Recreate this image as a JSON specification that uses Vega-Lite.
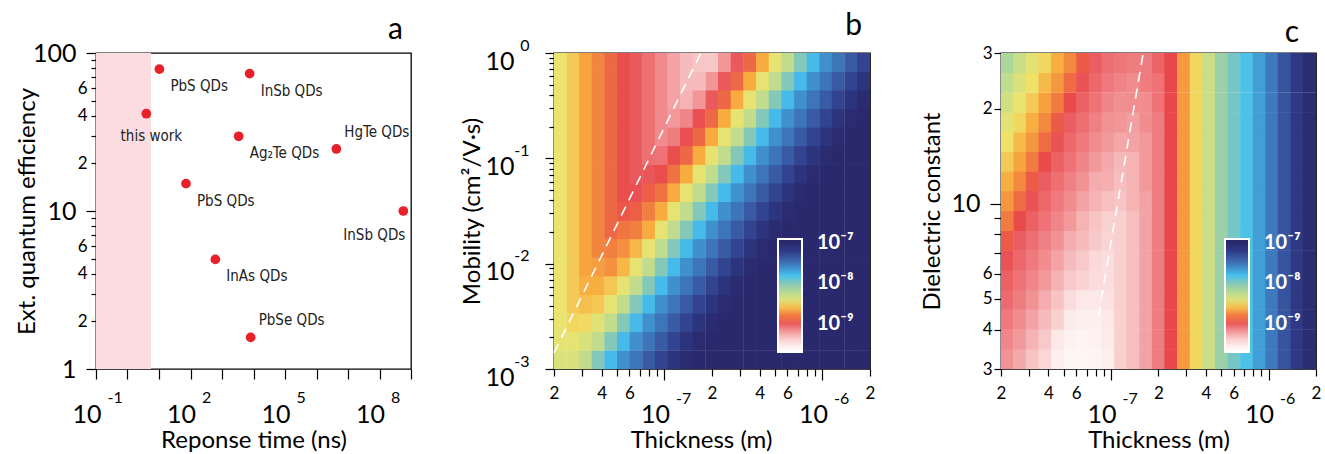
{
"$schema": "https://vega.github.io/schema/vega-lite/v6.json",
"padding": {"left": 14, "top": 10, "right": 0, "bottom": 0},
"datasets": {
"pts": [
{"time":3.96,"eqe":41.3,"label":"this work"},
{"time":10.3,"eqe":79,"label":"PbS QDs"},
{"time":7550,"eqe":74,"label":"InSb QDs"},
{"time":3380,"eqe":29.7,"label":"Ag₂Te QDs"},
{"time":4270000,"eqe":24.7,"label":"HgTe QDs"},
{"time":71.9,"eqe":14.9,"label":"PbS QDs"},
{"time":571000000,"eqe":10,"label":"InSb QDs"},
{"time":614,"eqe":4.94,"label":"InAs QDs"},
{"time":8130,"eqe":1.585,"label":"PbSe QDs"}
],
"hb": [
{"t":2.19e-8,"m":1.22e-3,"v":-8.4},{"t":2.64e-8,"m":1.22e-3,"v":-8.38},{"t":3.17e-8,"m":1.22e-3,"v":-8.25},{"t":3.81e-8,"m":1.22e-3,"v":-8},{"t":4.58e-8,"m":1.22e-3,"v":-7.78},{"t":5.51e-8,"m":1.22e-3,"v":-7.62},{"t":6.62e-8,"m":1.22e-3,"v":-7.5},{"t":7.96e-8,"m":1.22e-3,"v":-7.38},{"t":9.57e-8,"m":1.22e-3,"v":-7.25},{"t":1.15e-7,"m":1.22e-3,"v":-7.12},{"t":1.38e-7,"m":1.22e-3,"v":-7.02},{"t":1.66e-7,"m":1.22e-3,"v":-6.95},{"t":2.0e-7,"m":1.22e-3,"v":-6.95},{"t":2.4e-7,"m":1.22e-3,"v":-6.95},{"t":2.89e-7,"m":1.22e-3,"v":-6.95},{"t":3.48e-7,"m":1.22e-3,"v":-6.95},{"t":4.18e-7,"m":1.22e-3,"v":-6.95},{"t":5.03e-7,"m":1.22e-3,"v":-6.95},{"t":6.04e-7,"m":1.22e-3,"v":-6.95},{"t":7.27e-7,"m":1.22e-3,"v":-6.95},{"t":8.74e-7,"m":1.22e-3,"v":-6.95},{"t":1.05e-6,"m":1.22e-3,"v":-6.95},{"t":1.26e-6,"m":1.22e-3,"v":-6.95},{"t":1.52e-6,"m":1.22e-3,"v":-6.95},{"t":1.82e-6,"m":1.22e-3,"v":-6.95},
{"t":2.19e-8,"m":1.84e-3,"v":-8.44},{"t":2.64e-8,"m":1.84e-3,"v":-8.45},{"t":3.17e-8,"m":1.84e-3,"v":-8.38},{"t":3.81e-8,"m":1.84e-3,"v":-8.25},{"t":4.58e-8,"m":1.84e-3,"v":-8},{"t":5.51e-8,"m":1.84e-3,"v":-7.78},{"t":6.62e-8,"m":1.84e-3,"v":-7.62},{"t":7.96e-8,"m":1.84e-3,"v":-7.5},{"t":9.57e-8,"m":1.84e-3,"v":-7.38},{"t":1.15e-7,"m":1.84e-3,"v":-7.25},{"t":1.38e-7,"m":1.84e-3,"v":-7.12},{"t":1.66e-7,"m":1.84e-3,"v":-7.02},{"t":2.0e-7,"m":1.84e-3,"v":-6.95},{"t":2.4e-7,"m":1.84e-3,"v":-6.95},{"t":2.89e-7,"m":1.84e-3,"v":-6.95},{"t":3.48e-7,"m":1.84e-3,"v":-6.95},{"t":4.18e-7,"m":1.84e-3,"v":-6.95},{"t":5.03e-7,"m":1.84e-3,"v":-6.95},{"t":6.04e-7,"m":1.84e-3,"v":-6.95},{"t":7.27e-7,"m":1.84e-3,"v":-6.95},{"t":8.74e-7,"m":1.84e-3,"v":-6.95},{"t":1.05e-6,"m":1.84e-3,"v":-6.95},{"t":1.26e-6,"m":1.84e-3,"v":-6.95},{"t":1.52e-6,"m":1.84e-3,"v":-6.95},{"t":1.82e-6,"m":1.84e-3,"v":-6.95},
{"t":2.19e-8,"m":2.76e-3,"v":-8.47},{"t":2.64e-8,"m":2.76e-3,"v":-8.54},{"t":3.17e-8,"m":2.76e-3,"v":-8.53},{"t":3.81e-8,"m":2.76e-3,"v":-8.42},{"t":4.58e-8,"m":2.76e-3,"v":-8.25},{"t":5.51e-8,"m":2.76e-3,"v":-8},{"t":6.62e-8,"m":2.76e-3,"v":-7.78},{"t":7.96e-8,"m":2.76e-3,"v":-7.62},{"t":9.57e-8,"m":2.76e-3,"v":-7.5},{"t":1.15e-7,"m":2.76e-3,"v":-7.38},{"t":1.38e-7,"m":2.76e-3,"v":-7.25},{"t":1.66e-7,"m":2.76e-3,"v":-7.12},{"t":2.0e-7,"m":2.76e-3,"v":-7.02},{"t":2.4e-7,"m":2.76e-3,"v":-6.95},{"t":2.89e-7,"m":2.76e-3,"v":-6.95},{"t":3.48e-7,"m":2.76e-3,"v":-6.95},{"t":4.18e-7,"m":2.76e-3,"v":-6.95},{"t":5.03e-7,"m":2.76e-3,"v":-6.95},{"t":6.04e-7,"m":2.76e-3,"v":-6.95},{"t":7.27e-7,"m":2.76e-3,"v":-6.95},{"t":8.74e-7,"m":2.76e-3,"v":-6.95},{"t":1.05e-6,"m":2.76e-3,"v":-6.95},{"t":1.26e-6,"m":2.76e-3,"v":-6.95},{"t":1.52e-6,"m":2.76e-3,"v":-6.95},{"t":1.82e-6,"m":2.76e-3,"v":-6.95},
{"t":2.19e-8,"m":4.15e-3,"v":-8.47},{"t":2.64e-8,"m":4.15e-3,"v":-8.57},{"t":3.17e-8,"m":4.15e-3,"v":-8.6},{"t":3.81e-8,"m":4.15e-3,"v":-8.58},{"t":4.58e-8,"m":4.15e-3,"v":-8.45},{"t":5.51e-8,"m":4.15e-3,"v":-8.25},{"t":6.62e-8,"m":4.15e-3,"v":-8},{"t":7.96e-8,"m":4.15e-3,"v":-7.78},{"t":9.57e-8,"m":4.15e-3,"v":-7.62},{"t":1.15e-7,"m":4.15e-3,"v":-7.5},{"t":1.38e-7,"m":4.15e-3,"v":-7.38},{"t":1.66e-7,"m":4.15e-3,"v":-7.25},{"t":2.0e-7,"m":4.15e-3,"v":-7.12},{"t":2.4e-7,"m":4.15e-3,"v":-7.02},{"t":2.89e-7,"m":4.15e-3,"v":-6.95},{"t":3.48e-7,"m":4.15e-3,"v":-6.95},{"t":4.18e-7,"m":4.15e-3,"v":-6.95},{"t":5.03e-7,"m":4.15e-3,"v":-6.95},{"t":6.04e-7,"m":4.15e-3,"v":-6.95},{"t":7.27e-7,"m":4.15e-3,"v":-6.95},{"t":8.74e-7,"m":4.15e-3,"v":-6.95},{"t":1.05e-6,"m":4.15e-3,"v":-6.95},{"t":1.26e-6,"m":4.15e-3,"v":-6.95},{"t":1.52e-6,"m":4.15e-3,"v":-6.95},{"t":1.82e-6,"m":4.15e-3,"v":-6.95},
{"t":2.19e-8,"m":6.22e-3,"v":-8.47},{"t":2.64e-8,"m":6.22e-3,"v":-8.57},{"t":3.17e-8,"m":6.22e-3,"v":-8.64},{"t":3.81e-8,"m":6.22e-3,"v":-8.64},{"t":4.58e-8,"m":6.22e-3,"v":-8.58},{"t":5.51e-8,"m":6.22e-3,"v":-8.45},{"t":6.62e-8,"m":6.22e-3,"v":-8.25},{"t":7.96e-8,"m":6.22e-3,"v":-8},{"t":9.57e-8,"m":6.22e-3,"v":-7.78},{"t":1.15e-7,"m":6.22e-3,"v":-7.62},{"t":1.38e-7,"m":6.22e-3,"v":-7.5},{"t":1.66e-7,"m":6.22e-3,"v":-7.38},{"t":2.0e-7,"m":6.22e-3,"v":-7.25},{"t":2.4e-7,"m":6.22e-3,"v":-7.12},{"t":2.89e-7,"m":6.22e-3,"v":-7.02},{"t":3.48e-7,"m":6.22e-3,"v":-6.95},{"t":4.18e-7,"m":6.22e-3,"v":-6.95},{"t":5.03e-7,"m":6.22e-3,"v":-6.95},{"t":6.04e-7,"m":6.22e-3,"v":-6.95},{"t":7.27e-7,"m":6.22e-3,"v":-6.95},{"t":8.74e-7,"m":6.22e-3,"v":-6.95},{"t":1.05e-6,"m":6.22e-3,"v":-6.95},{"t":1.26e-6,"m":6.22e-3,"v":-6.95},{"t":1.52e-6,"m":6.22e-3,"v":-6.95},{"t":1.82e-6,"m":6.22e-3,"v":-6.95},
{"t":2.19e-8,"m":9.35e-3,"v":-8.47},{"t":2.64e-8,"m":9.35e-3,"v":-8.57},{"t":3.17e-8,"m":9.35e-3,"v":-8.67},{"t":3.81e-8,"m":9.35e-3,"v":-8.69},{"t":4.58e-8,"m":9.35e-3,"v":-8.73},{"t":5.51e-8,"m":9.35e-3,"v":-8.62},{"t":6.62e-8,"m":9.35e-3,"v":-8.45},{"t":7.96e-8,"m":9.35e-3,"v":-8.25},{"t":9.57e-8,"m":9.35e-3,"v":-8},{"t":1.15e-7,"m":9.35e-3,"v":-7.78},{"t":1.38e-7,"m":9.35e-3,"v":-7.62},{"t":1.66e-7,"m":9.35e-3,"v":-7.5},{"t":2.0e-7,"m":9.35e-3,"v":-7.38},{"t":2.4e-7,"m":9.35e-3,"v":-7.25},{"t":2.89e-7,"m":9.35e-3,"v":-7.12},{"t":3.48e-7,"m":9.35e-3,"v":-7.02},{"t":4.18e-7,"m":9.35e-3,"v":-6.95},{"t":5.03e-7,"m":9.35e-3,"v":-6.95},{"t":6.04e-7,"m":9.35e-3,"v":-6.95},{"t":7.27e-7,"m":9.35e-3,"v":-6.95},{"t":8.74e-7,"m":9.35e-3,"v":-6.95},{"t":1.05e-6,"m":9.35e-3,"v":-6.95},{"t":1.26e-6,"m":9.35e-3,"v":-6.95},{"t":1.52e-6,"m":9.35e-3,"v":-6.95},{"t":1.82e-6,"m":9.35e-3,"v":-6.95},
{"t":2.19e-8,"m":0.014,"v":-8.47},{"t":2.64e-8,"m":0.014,"v":-8.57},{"t":3.17e-8,"m":0.014,"v":-8.67},{"t":3.81e-8,"m":0.014,"v":-8.76},{"t":4.58e-8,"m":0.014,"v":-8.78},{"t":5.51e-8,"m":0.014,"v":-8.73},{"t":6.62e-8,"m":0.014,"v":-8.62},{"t":7.96e-8,"m":0.014,"v":-8.45},{"t":9.57e-8,"m":0.014,"v":-8.25},{"t":1.15e-7,"m":0.014,"v":-8},{"t":1.38e-7,"m":0.014,"v":-7.78},{"t":1.66e-7,"m":0.014,"v":-7.62},{"t":2.0e-7,"m":0.014,"v":-7.5},{"t":2.4e-7,"m":0.014,"v":-7.38},{"t":2.89e-7,"m":0.014,"v":-7.25},{"t":3.48e-7,"m":0.014,"v":-7.12},{"t":4.18e-7,"m":0.014,"v":-7.02},{"t":5.03e-7,"m":0.014,"v":-6.95},{"t":6.04e-7,"m":0.014,"v":-6.95},{"t":7.27e-7,"m":0.014,"v":-6.95},{"t":8.74e-7,"m":0.014,"v":-6.95},{"t":1.05e-6,"m":0.014,"v":-6.95},{"t":1.26e-6,"m":0.014,"v":-6.95},{"t":1.52e-6,"m":0.014,"v":-6.95},{"t":1.82e-6,"m":0.014,"v":-6.95},
{"t":2.19e-8,"m":0.0211,"v":-8.47},{"t":2.64e-8,"m":0.0211,"v":-8.57},{"t":3.17e-8,"m":0.0211,"v":-8.67},{"t":3.81e-8,"m":0.0211,"v":-8.76},{"t":4.58e-8,"m":0.0211,"v":-8.85},{"t":5.51e-8,"m":0.0211,"v":-8.81},{"t":6.62e-8,"m":0.0211,"v":-8.78},{"t":7.96e-8,"m":0.0211,"v":-8.65},{"t":9.57e-8,"m":0.0211,"v":-8.45},{"t":1.15e-7,"m":0.0211,"v":-8.25},{"t":1.38e-7,"m":0.0211,"v":-8},{"t":1.66e-7,"m":0.0211,"v":-7.78},{"t":2.0e-7,"m":0.0211,"v":-7.62},{"t":2.4e-7,"m":0.0211,"v":-7.5},{"t":2.89e-7,"m":0.0211,"v":-7.38},{"t":3.48e-7,"m":0.0211,"v":-7.25},{"t":4.18e-7,"m":0.0211,"v":-7.12},{"t":5.03e-7,"m":0.0211,"v":-7.02},{"t":6.04e-7,"m":0.0211,"v":-6.95},{"t":7.27e-7,"m":0.0211,"v":-6.95},{"t":8.74e-7,"m":0.0211,"v":-6.95},{"t":1.05e-6,"m":0.0211,"v":-6.95},{"t":1.26e-6,"m":0.0211,"v":-6.95},{"t":1.52e-6,"m":0.0211,"v":-6.95},{"t":1.82e-6,"m":0.0211,"v":-6.95},
{"t":2.19e-8,"m":0.0316,"v":-8.47},{"t":2.64e-8,"m":0.0316,"v":-8.57},{"t":3.17e-8,"m":0.0316,"v":-8.67},{"t":3.81e-8,"m":0.0316,"v":-8.76},{"t":4.58e-8,"m":0.0316,"v":-8.85},{"t":5.51e-8,"m":0.0316,"v":-8.9},{"t":6.62e-8,"m":0.0316,"v":-8.88},{"t":7.96e-8,"m":0.0316,"v":-8.78},{"t":9.57e-8,"m":0.0316,"v":-8.65},{"t":1.15e-7,"m":0.0316,"v":-8.45},{"t":1.38e-7,"m":0.0316,"v":-8.25},{"t":1.66e-7,"m":0.0316,"v":-8},{"t":2.0e-7,"m":0.0316,"v":-7.78},{"t":2.4e-7,"m":0.0316,"v":-7.62},{"t":2.89e-7,"m":0.0316,"v":-7.5},{"t":3.48e-7,"m":0.0316,"v":-7.38},{"t":4.18e-7,"m":0.0316,"v":-7.25},{"t":5.03e-7,"m":0.0316,"v":-7.12},{"t":6.04e-7,"m":0.0316,"v":-7.02},{"t":7.27e-7,"m":0.0316,"v":-6.95},{"t":8.74e-7,"m":0.0316,"v":-6.95},{"t":1.05e-6,"m":0.0316,"v":-6.95},{"t":1.26e-6,"m":0.0316,"v":-6.95},{"t":1.52e-6,"m":0.0316,"v":-6.95},{"t":1.82e-6,"m":0.0316,"v":-6.95},
{"t":2.19e-8,"m":0.0475,"v":-8.47},{"t":2.64e-8,"m":0.0475,"v":-8.57},{"t":3.17e-8,"m":0.0475,"v":-8.67},{"t":3.81e-8,"m":0.0475,"v":-8.76},{"t":4.58e-8,"m":0.0475,"v":-8.85},{"t":5.51e-8,"m":0.0475,"v":-8.93},{"t":6.62e-8,"m":0.0475,"v":-8.97},{"t":7.96e-8,"m":0.0475,"v":-8.88},{"t":9.57e-8,"m":0.0475,"v":-8.82},{"t":1.15e-7,"m":0.0475,"v":-8.65},{"t":1.38e-7,"m":0.0475,"v":-8.45},{"t":1.66e-7,"m":0.0475,"v":-8.25},{"t":2.0e-7,"m":0.0475,"v":-8},{"t":2.4e-7,"m":0.0475,"v":-7.78},{"t":2.89e-7,"m":0.0475,"v":-7.62},{"t":3.48e-7,"m":0.0475,"v":-7.5},{"t":4.18e-7,"m":0.0475,"v":-7.38},{"t":5.03e-7,"m":0.0475,"v":-7.25},{"t":6.04e-7,"m":0.0475,"v":-7.12},{"t":7.27e-7,"m":0.0475,"v":-7.02},{"t":8.74e-7,"m":0.0475,"v":-6.95},{"t":1.05e-6,"m":0.0475,"v":-6.95},{"t":1.26e-6,"m":0.0475,"v":-6.95},{"t":1.52e-6,"m":0.0475,"v":-6.95},{"t":1.82e-6,"m":0.0475,"v":-6.95},
{"t":2.19e-8,"m":0.0713,"v":-8.47},{"t":2.64e-8,"m":0.0713,"v":-8.57},{"t":3.17e-8,"m":0.0713,"v":-8.67},{"t":3.81e-8,"m":0.0713,"v":-8.76},{"t":4.58e-8,"m":0.0713,"v":-8.85},{"t":5.51e-8,"m":0.0713,"v":-8.93},{"t":6.62e-8,"m":0.0713,"v":-9},{"t":7.96e-8,"m":0.0713,"v":-8.99},{"t":9.57e-8,"m":0.0713,"v":-8.93},{"t":1.15e-7,"m":0.0713,"v":-8.82},{"t":1.38e-7,"m":0.0713,"v":-8.65},{"t":1.66e-7,"m":0.0713,"v":-8.45},{"t":2.0e-7,"m":0.0713,"v":-8.25},{"t":2.4e-7,"m":0.0713,"v":-8},{"t":2.89e-7,"m":0.0713,"v":-7.78},{"t":3.48e-7,"m":0.0713,"v":-7.62},{"t":4.18e-7,"m":0.0713,"v":-7.5},{"t":5.03e-7,"m":0.0713,"v":-7.38},{"t":6.04e-7,"m":0.0713,"v":-7.25},{"t":7.27e-7,"m":0.0713,"v":-7.12},{"t":8.74e-7,"m":0.0713,"v":-7.02},{"t":1.05e-6,"m":0.0713,"v":-6.95},{"t":1.26e-6,"m":0.0713,"v":-6.95},{"t":1.52e-6,"m":0.0713,"v":-6.95},{"t":1.82e-6,"m":0.0713,"v":-6.95},
{"t":2.19e-8,"m":0.107,"v":-8.47},{"t":2.64e-8,"m":0.107,"v":-8.57},{"t":3.17e-8,"m":0.107,"v":-8.67},{"t":3.81e-8,"m":0.107,"v":-8.76},{"t":4.58e-8,"m":0.107,"v":-8.85},{"t":5.51e-8,"m":0.107,"v":-8.93},{"t":6.62e-8,"m":0.107,"v":-9},{"t":7.96e-8,"m":0.107,"v":-9.06},{"t":9.57e-8,"m":0.107,"v":-9.07},{"t":1.15e-7,"m":0.107,"v":-8.93},{"t":1.38e-7,"m":0.107,"v":-8.85},{"t":1.66e-7,"m":0.107,"v":-8.65},{"t":2.0e-7,"m":0.107,"v":-8.45},{"t":2.4e-7,"m":0.107,"v":-8.25},{"t":2.89e-7,"m":0.107,"v":-8},{"t":3.48e-7,"m":0.107,"v":-7.78},{"t":4.18e-7,"m":0.107,"v":-7.62},{"t":5.03e-7,"m":0.107,"v":-7.5},{"t":6.04e-7,"m":0.107,"v":-7.38},{"t":7.27e-7,"m":0.107,"v":-7.25},{"t":8.74e-7,"m":0.107,"v":-7.12},{"t":1.05e-6,"m":0.107,"v":-7.02},{"t":1.26e-6,"m":0.107,"v":-6.95},{"t":1.52e-6,"m":0.107,"v":-6.95},{"t":1.82e-6,"m":0.107,"v":-6.95},
{"t":2.19e-8,"m":0.161,"v":-8.47},{"t":2.64e-8,"m":0.161,"v":-8.57},{"t":3.17e-8,"m":0.161,"v":-8.67},{"t":3.81e-8,"m":0.161,"v":-8.76},{"t":4.58e-8,"m":0.161,"v":-8.85},{"t":5.51e-8,"m":0.161,"v":-8.93},{"t":6.62e-8,"m":0.161,"v":-9},{"t":7.96e-8,"m":0.161,"v":-9.06},{"t":9.57e-8,"m":0.161,"v":-9.14},{"t":1.15e-7,"m":0.161,"v":-9.1},{"t":1.38e-7,"m":0.161,"v":-8.97},{"t":1.66e-7,"m":0.161,"v":-8.85},{"t":2.0e-7,"m":0.161,"v":-8.65},{"t":2.4e-7,"m":0.161,"v":-8.45},{"t":2.89e-7,"m":0.161,"v":-8.25},{"t":3.48e-7,"m":0.161,"v":-8},{"t":4.18e-7,"m":0.161,"v":-7.78},{"t":5.03e-7,"m":0.161,"v":-7.62},{"t":6.04e-7,"m":0.161,"v":-7.5},{"t":7.27e-7,"m":0.161,"v":-7.38},{"t":8.74e-7,"m":0.161,"v":-7.25},{"t":1.05e-6,"m":0.161,"v":-7.12},{"t":1.26e-6,"m":0.161,"v":-7.02},{"t":1.52e-6,"m":0.161,"v":-6.95},{"t":1.82e-6,"m":0.161,"v":-6.95},
{"t":2.19e-8,"m":0.241,"v":-8.47},{"t":2.64e-8,"m":0.241,"v":-8.57},{"t":3.17e-8,"m":0.241,"v":-8.67},{"t":3.81e-8,"m":0.241,"v":-8.76},{"t":4.58e-8,"m":0.241,"v":-8.85},{"t":5.51e-8,"m":0.241,"v":-8.93},{"t":6.62e-8,"m":0.241,"v":-9},{"t":7.96e-8,"m":0.241,"v":-9.06},{"t":9.57e-8,"m":0.241,"v":-9.14},{"t":1.15e-7,"m":0.241,"v":-9.19},{"t":1.38e-7,"m":0.241,"v":-9.13},{"t":1.66e-7,"m":0.241,"v":-8.97},{"t":2.0e-7,"m":0.241,"v":-8.85},{"t":2.4e-7,"m":0.241,"v":-8.65},{"t":2.89e-7,"m":0.241,"v":-8.45},{"t":3.48e-7,"m":0.241,"v":-8.25},{"t":4.18e-7,"m":0.241,"v":-8},{"t":5.03e-7,"m":0.241,"v":-7.78},{"t":6.04e-7,"m":0.241,"v":-7.62},{"t":7.27e-7,"m":0.241,"v":-7.5},{"t":8.74e-7,"m":0.241,"v":-7.38},{"t":1.05e-6,"m":0.241,"v":-7.25},{"t":1.26e-6,"m":0.241,"v":-7.12},{"t":1.52e-6,"m":0.241,"v":-7.02},{"t":1.82e-6,"m":0.241,"v":-6.95},
{"t":2.19e-8,"m":0.362,"v":-8.47},{"t":2.64e-8,"m":0.362,"v":-8.57},{"t":3.17e-8,"m":0.362,"v":-8.67},{"t":3.81e-8,"m":0.362,"v":-8.76},{"t":4.58e-8,"m":0.362,"v":-8.85},{"t":5.51e-8,"m":0.362,"v":-8.93},{"t":6.62e-8,"m":0.362,"v":-9},{"t":7.96e-8,"m":0.362,"v":-9.06},{"t":9.57e-8,"m":0.362,"v":-9.14},{"t":1.15e-7,"m":0.362,"v":-9.22},{"t":1.38e-7,"m":0.362,"v":-9.27},{"t":1.66e-7,"m":0.362,"v":-9.18},{"t":2.0e-7,"m":0.362,"v":-9},{"t":2.4e-7,"m":0.362,"v":-8.85},{"t":2.89e-7,"m":0.362,"v":-8.65},{"t":3.48e-7,"m":0.362,"v":-8.45},{"t":4.18e-7,"m":0.362,"v":-8.25},{"t":5.03e-7,"m":0.362,"v":-8},{"t":6.04e-7,"m":0.362,"v":-7.78},{"t":7.27e-7,"m":0.362,"v":-7.62},{"t":8.74e-7,"m":0.362,"v":-7.5},{"t":1.05e-6,"m":0.362,"v":-7.38},{"t":1.26e-6,"m":0.362,"v":-7.25},{"t":1.52e-6,"m":0.362,"v":-7.12},{"t":1.82e-6,"m":0.362,"v":-7.02},
{"t":2.19e-8,"m":0.544,"v":-8.47},{"t":2.64e-8,"m":0.544,"v":-8.57},{"t":3.17e-8,"m":0.544,"v":-8.67},{"t":3.81e-8,"m":0.544,"v":-8.76},{"t":4.58e-8,"m":0.544,"v":-8.85},{"t":5.51e-8,"m":0.544,"v":-8.93},{"t":6.62e-8,"m":0.544,"v":-9},{"t":7.96e-8,"m":0.544,"v":-9.06},{"t":9.57e-8,"m":0.544,"v":-9.14},{"t":1.15e-7,"m":0.544,"v":-9.22},{"t":1.38e-7,"m":0.544,"v":-9.3},{"t":1.66e-7,"m":0.544,"v":-9.3},{"t":2.0e-7,"m":0.544,"v":-9.18},{"t":2.4e-7,"m":0.544,"v":-9},{"t":2.89e-7,"m":0.544,"v":-8.85},{"t":3.48e-7,"m":0.544,"v":-8.65},{"t":4.18e-7,"m":0.544,"v":-8.45},{"t":5.03e-7,"m":0.544,"v":-8.25},{"t":6.04e-7,"m":0.544,"v":-8},{"t":7.27e-7,"m":0.544,"v":-7.78},{"t":8.74e-7,"m":0.544,"v":-7.62},{"t":1.05e-6,"m":0.544,"v":-7.5},{"t":1.26e-6,"m":0.544,"v":-7.38},{"t":1.52e-6,"m":0.544,"v":-7.25},{"t":1.82e-6,"m":0.544,"v":-7.12},
{"t":2.19e-8,"m":0.816,"v":-8.47},{"t":2.64e-8,"m":0.816,"v":-8.57},{"t":3.17e-8,"m":0.816,"v":-8.67},{"t":3.81e-8,"m":0.816,"v":-8.76},{"t":4.58e-8,"m":0.816,"v":-8.85},{"t":5.51e-8,"m":0.816,"v":-8.93},{"t":6.62e-8,"m":0.816,"v":-9},{"t":7.96e-8,"m":0.816,"v":-9.06},{"t":9.57e-8,"m":0.816,"v":-9.14},{"t":1.15e-7,"m":0.816,"v":-9.22},{"t":1.38e-7,"m":0.816,"v":-9.3},{"t":1.66e-7,"m":0.816,"v":-9.34},{"t":2.0e-7,"m":0.816,"v":-9.35},{"t":2.4e-7,"m":0.816,"v":-9.18},{"t":2.89e-7,"m":0.816,"v":-9},{"t":3.48e-7,"m":0.816,"v":-8.85},{"t":4.18e-7,"m":0.816,"v":-8.65},{"t":5.03e-7,"m":0.816,"v":-8.45},{"t":6.04e-7,"m":0.816,"v":-8.25},{"t":7.27e-7,"m":0.816,"v":-8},{"t":8.74e-7,"m":0.816,"v":-7.78},{"t":1.05e-6,"m":0.816,"v":-7.62},{"t":1.26e-6,"m":0.816,"v":-7.5},{"t":1.52e-6,"m":0.816,"v":-7.38},{"t":1.82e-6,"m":0.816,"v":-7.25}
],
"hc": [
{"t":2.19e-8,"e":3.22,"v":-9.17},{"t":2.64e-8,"e":3.22,"v":-9.24},{"t":3.17e-8,"e":3.22,"v":-9.33},{"t":3.81e-8,"e":3.22,"v":-9.42},{"t":4.58e-8,"e":3.22,"v":-9.55},{"t":5.51e-8,"e":3.22,"v":-9.62},{"t":6.62e-8,"e":3.22,"v":-9.62},{"t":7.96e-8,"e":3.22,"v":-9.6},{"t":9.57e-8,"e":3.22,"v":-9.55},{"t":1.15e-7,"e":3.22,"v":-9.39},{"t":1.38e-7,"e":3.22,"v":-9.31},{"t":1.66e-7,"e":3.22,"v":-9.22},{"t":2.0e-7,"e":3.22,"v":-9.1},{"t":2.4e-7,"e":3.22,"v":-8.95},{"t":2.89e-7,"e":3.22,"v":-8.7},{"t":3.48e-7,"e":3.22,"v":-8.54},{"t":4.18e-7,"e":3.22,"v":-8.3},{"t":5.03e-7,"e":3.22,"v":-8.1},{"t":6.04e-7,"e":3.22,"v":-7.95},{"t":7.27e-7,"e":3.22,"v":-7.82},{"t":8.74e-7,"e":3.22,"v":-7.67},{"t":1.05e-6,"e":3.22,"v":-7.52},{"t":1.26e-6,"e":3.22,"v":-7.34},{"t":1.52e-6,"e":3.22,"v":-7.17},{"t":1.82e-6,"e":3.22,"v":-7.04},
{"t":2.19e-8,"e":3.72,"v":-9.13},{"t":2.64e-8,"e":3.72,"v":-9.19},{"t":3.17e-8,"e":3.72,"v":-9.27},{"t":3.81e-8,"e":3.72,"v":-9.36},{"t":4.58e-8,"e":3.72,"v":-9.5},{"t":5.51e-8,"e":3.72,"v":-9.58},{"t":6.62e-8,"e":3.72,"v":-9.6},{"t":7.96e-8,"e":3.72,"v":-9.58},{"t":9.57e-8,"e":3.72,"v":-9.52},{"t":1.15e-7,"e":3.72,"v":-9.39},{"t":1.38e-7,"e":3.72,"v":-9.31},{"t":1.66e-7,"e":3.72,"v":-9.22},{"t":2.0e-7,"e":3.72,"v":-9.1},{"t":2.4e-7,"e":3.72,"v":-8.95},{"t":2.89e-7,"e":3.72,"v":-8.7},{"t":3.48e-7,"e":3.72,"v":-8.54},{"t":4.18e-7,"e":3.72,"v":-8.3},{"t":5.03e-7,"e":3.72,"v":-8.1},{"t":6.04e-7,"e":3.72,"v":-7.95},{"t":7.27e-7,"e":3.72,"v":-7.82},{"t":8.74e-7,"e":3.72,"v":-7.67},{"t":1.05e-6,"e":3.72,"v":-7.52},{"t":1.26e-6,"e":3.72,"v":-7.34},{"t":1.52e-6,"e":3.72,"v":-7.17},{"t":1.82e-6,"e":3.72,"v":-7.04},
{"t":2.19e-8,"e":4.3,"v":-9.09},{"t":2.64e-8,"e":4.3,"v":-9.15},{"t":3.17e-8,"e":4.3,"v":-9.22},{"t":3.81e-8,"e":4.3,"v":-9.3},{"t":4.58e-8,"e":4.3,"v":-9.39},{"t":5.51e-8,"e":4.3,"v":-9.52},{"t":6.62e-8,"e":4.3,"v":-9.56},{"t":7.96e-8,"e":4.3,"v":-9.56},{"t":9.57e-8,"e":4.3,"v":-9.5},{"t":1.15e-7,"e":4.3,"v":-9.39},{"t":1.38e-7,"e":4.3,"v":-9.31},{"t":1.66e-7,"e":4.3,"v":-9.22},{"t":2.0e-7,"e":4.3,"v":-9.1},{"t":2.4e-7,"e":4.3,"v":-8.95},{"t":2.89e-7,"e":4.3,"v":-8.7},{"t":3.48e-7,"e":4.3,"v":-8.54},{"t":4.18e-7,"e":4.3,"v":-8.3},{"t":5.03e-7,"e":4.3,"v":-8.1},{"t":6.04e-7,"e":4.3,"v":-7.95},{"t":7.27e-7,"e":4.3,"v":-7.82},{"t":8.74e-7,"e":4.3,"v":-7.67},{"t":1.05e-6,"e":4.3,"v":-7.52},{"t":1.26e-6,"e":4.3,"v":-7.34},{"t":1.52e-6,"e":4.3,"v":-7.17},{"t":1.82e-6,"e":4.3,"v":-7.04},
{"t":2.19e-8,"e":4.97,"v":-9.05},{"t":2.64e-8,"e":4.97,"v":-9.1},{"t":3.17e-8,"e":4.97,"v":-9.17},{"t":3.81e-8,"e":4.97,"v":-9.25},{"t":4.58e-8,"e":4.97,"v":-9.33},{"t":5.51e-8,"e":4.97,"v":-9.45},{"t":6.62e-8,"e":4.97,"v":-9.5},{"t":7.96e-8,"e":4.97,"v":-9.5},{"t":9.57e-8,"e":4.97,"v":-9.47},{"t":1.15e-7,"e":4.97,"v":-9.39},{"t":1.38e-7,"e":4.97,"v":-9.31},{"t":1.66e-7,"e":4.97,"v":-9.22},{"t":2.0e-7,"e":4.97,"v":-9.1},{"t":2.4e-7,"e":4.97,"v":-8.95},{"t":2.89e-7,"e":4.97,"v":-8.7},{"t":3.48e-7,"e":4.97,"v":-8.54},{"t":4.18e-7,"e":4.97,"v":-8.3},{"t":5.03e-7,"e":4.97,"v":-8.1},{"t":6.04e-7,"e":4.97,"v":-7.95},{"t":7.27e-7,"e":4.97,"v":-7.82},{"t":8.74e-7,"e":4.97,"v":-7.67},{"t":1.05e-6,"e":4.97,"v":-7.52},{"t":1.26e-6,"e":4.97,"v":-7.34},{"t":1.52e-6,"e":4.97,"v":-7.17},{"t":1.82e-6,"e":4.97,"v":-7.04},
{"t":2.19e-8,"e":5.73,"v":-9.02},{"t":2.64e-8,"e":5.73,"v":-9.07},{"t":3.17e-8,"e":5.73,"v":-9.13},{"t":3.81e-8,"e":5.73,"v":-9.19},{"t":4.58e-8,"e":5.73,"v":-9.27},{"t":5.51e-8,"e":5.73,"v":-9.36},{"t":6.62e-8,"e":5.73,"v":-9.4},{"t":7.96e-8,"e":5.73,"v":-9.45},{"t":9.57e-8,"e":5.73,"v":-9.45},{"t":1.15e-7,"e":5.73,"v":-9.39},{"t":1.38e-7,"e":5.73,"v":-9.31},{"t":1.66e-7,"e":5.73,"v":-9.22},{"t":2.0e-7,"e":5.73,"v":-9.1},{"t":2.4e-7,"e":5.73,"v":-8.95},{"t":2.89e-7,"e":5.73,"v":-8.7},{"t":3.48e-7,"e":5.73,"v":-8.54},{"t":4.18e-7,"e":5.73,"v":-8.3},{"t":5.03e-7,"e":5.73,"v":-8.1},{"t":6.04e-7,"e":5.73,"v":-7.95},{"t":7.27e-7,"e":5.73,"v":-7.82},{"t":8.74e-7,"e":5.73,"v":-7.67},{"t":1.05e-6,"e":5.73,"v":-7.52},{"t":1.26e-6,"e":5.73,"v":-7.34},{"t":1.52e-6,"e":5.73,"v":-7.17},{"t":1.82e-6,"e":5.73,"v":-7.04},
{"t":2.19e-8,"e":6.62,"v":-8.98},{"t":2.64e-8,"e":6.62,"v":-9.04},{"t":3.17e-8,"e":6.62,"v":-9.09},{"t":3.81e-8,"e":6.62,"v":-9.15},{"t":4.58e-8,"e":6.62,"v":-9.22},{"t":5.51e-8,"e":6.62,"v":-9.3},{"t":6.62e-8,"e":6.62,"v":-9.36},{"t":7.96e-8,"e":6.62,"v":-9.43},{"t":9.57e-8,"e":6.62,"v":-9.45},{"t":1.15e-7,"e":6.62,"v":-9.39},{"t":1.38e-7,"e":6.62,"v":-9.31},{"t":1.66e-7,"e":6.62,"v":-9.22},{"t":2.0e-7,"e":6.62,"v":-9.1},{"t":2.4e-7,"e":6.62,"v":-8.95},{"t":2.89e-7,"e":6.62,"v":-8.7},{"t":3.48e-7,"e":6.62,"v":-8.54},{"t":4.18e-7,"e":6.62,"v":-8.3},{"t":5.03e-7,"e":6.62,"v":-8.1},{"t":6.04e-7,"e":6.62,"v":-7.95},{"t":7.27e-7,"e":6.62,"v":-7.82},{"t":8.74e-7,"e":6.62,"v":-7.67},{"t":1.05e-6,"e":6.62,"v":-7.52},{"t":1.26e-6,"e":6.62,"v":-7.34},{"t":1.52e-6,"e":6.62,"v":-7.17},{"t":1.82e-6,"e":6.62,"v":-7.04},
{"t":2.19e-8,"e":7.65,"v":-8.89},{"t":2.64e-8,"e":7.65,"v":-9.01},{"t":3.17e-8,"e":7.65,"v":-9.06},{"t":3.81e-8,"e":7.65,"v":-9.11},{"t":4.58e-8,"e":7.65,"v":-9.17},{"t":5.51e-8,"e":7.65,"v":-9.25},{"t":6.62e-8,"e":7.65,"v":-9.3},{"t":7.96e-8,"e":7.65,"v":-9.36},{"t":9.57e-8,"e":7.65,"v":-9.41},{"t":1.15e-7,"e":7.65,"v":-9.39},{"t":1.38e-7,"e":7.65,"v":-9.31},{"t":1.66e-7,"e":7.65,"v":-9.22},{"t":2.0e-7,"e":7.65,"v":-9.1},{"t":2.4e-7,"e":7.65,"v":-8.95},{"t":2.89e-7,"e":7.65,"v":-8.7},{"t":3.48e-7,"e":7.65,"v":-8.54},{"t":4.18e-7,"e":7.65,"v":-8.3},{"t":5.03e-7,"e":7.65,"v":-8.1},{"t":6.04e-7,"e":7.65,"v":-7.95},{"t":7.27e-7,"e":7.65,"v":-7.82},{"t":8.74e-7,"e":7.65,"v":-7.67},{"t":1.05e-6,"e":7.65,"v":-7.52},{"t":1.26e-6,"e":7.65,"v":-7.34},{"t":1.52e-6,"e":7.65,"v":-7.17},{"t":1.82e-6,"e":7.65,"v":-7.04},
{"t":2.19e-8,"e":8.83,"v":-8.79},{"t":2.64e-8,"e":8.83,"v":-8.94},{"t":3.17e-8,"e":8.83,"v":-9.02},{"t":3.81e-8,"e":8.83,"v":-9.07},{"t":4.58e-8,"e":8.83,"v":-9.13},{"t":5.51e-8,"e":8.83,"v":-9.19},{"t":6.62e-8,"e":8.83,"v":-9.27},{"t":7.96e-8,"e":8.83,"v":-9.33},{"t":9.57e-8,"e":8.83,"v":-9.39},{"t":1.15e-7,"e":8.83,"v":-9.39},{"t":1.38e-7,"e":8.83,"v":-9.31},{"t":1.66e-7,"e":8.83,"v":-9.22},{"t":2.0e-7,"e":8.83,"v":-9.1},{"t":2.4e-7,"e":8.83,"v":-8.95},{"t":2.89e-7,"e":8.83,"v":-8.7},{"t":3.48e-7,"e":8.83,"v":-8.54},{"t":4.18e-7,"e":8.83,"v":-8.3},{"t":5.03e-7,"e":8.83,"v":-8.1},{"t":6.04e-7,"e":8.83,"v":-7.95},{"t":7.27e-7,"e":8.83,"v":-7.82},{"t":8.74e-7,"e":8.83,"v":-7.67},{"t":1.05e-6,"e":8.83,"v":-7.52},{"t":1.26e-6,"e":8.83,"v":-7.34},{"t":1.52e-6,"e":8.83,"v":-7.17},{"t":1.82e-6,"e":8.83,"v":-7.04},
{"t":2.19e-8,"e":10.2,"v":-8.71},{"t":2.64e-8,"e":10.2,"v":-8.84},{"t":3.17e-8,"e":10.2,"v":-8.98},{"t":3.81e-8,"e":10.2,"v":-9.04},{"t":4.58e-8,"e":10.2,"v":-9.09},{"t":5.51e-8,"e":10.2,"v":-9.15},{"t":6.62e-8,"e":10.2,"v":-9.22},{"t":7.96e-8,"e":10.2,"v":-9.27},{"t":9.57e-8,"e":10.2,"v":-9.32},{"t":1.15e-7,"e":10.2,"v":-9.34},{"t":1.38e-7,"e":10.2,"v":-9.27},{"t":1.66e-7,"e":10.2,"v":-9.22},{"t":2.0e-7,"e":10.2,"v":-9.1},{"t":2.4e-7,"e":10.2,"v":-8.95},{"t":2.89e-7,"e":10.2,"v":-8.7},{"t":3.48e-7,"e":10.2,"v":-8.54},{"t":4.18e-7,"e":10.2,"v":-8.3},{"t":5.03e-7,"e":10.2,"v":-8.1},{"t":6.04e-7,"e":10.2,"v":-7.95},{"t":7.27e-7,"e":10.2,"v":-7.82},{"t":8.74e-7,"e":10.2,"v":-7.67},{"t":1.05e-6,"e":10.2,"v":-7.52},{"t":1.26e-6,"e":10.2,"v":-7.34},{"t":1.52e-6,"e":10.2,"v":-7.17},{"t":1.82e-6,"e":10.2,"v":-7.04},
{"t":2.19e-8,"e":11.8,"v":-8.64},{"t":2.64e-8,"e":11.8,"v":-8.75},{"t":3.17e-8,"e":11.8,"v":-8.89},{"t":3.81e-8,"e":11.8,"v":-9.01},{"t":4.58e-8,"e":11.8,"v":-9.06},{"t":5.51e-8,"e":11.8,"v":-9.11},{"t":6.62e-8,"e":11.8,"v":-9.17},{"t":7.96e-8,"e":11.8,"v":-9.25},{"t":9.57e-8,"e":11.8,"v":-9.26},{"t":1.15e-7,"e":11.8,"v":-9.31},{"t":1.38e-7,"e":11.8,"v":-9.27},{"t":1.66e-7,"e":11.8,"v":-9.19},{"t":2.0e-7,"e":11.8,"v":-9.1},{"t":2.4e-7,"e":11.8,"v":-8.95},{"t":2.89e-7,"e":11.8,"v":-8.7},{"t":3.48e-7,"e":11.8,"v":-8.54},{"t":4.18e-7,"e":11.8,"v":-8.3},{"t":5.03e-7,"e":11.8,"v":-8.1},{"t":6.04e-7,"e":11.8,"v":-7.95},{"t":7.27e-7,"e":11.8,"v":-7.82},{"t":8.74e-7,"e":11.8,"v":-7.67},{"t":1.05e-6,"e":11.8,"v":-7.52},{"t":1.26e-6,"e":11.8,"v":-7.34},{"t":1.52e-6,"e":11.8,"v":-7.17},{"t":1.82e-6,"e":11.8,"v":-7.04},
{"t":2.19e-8,"e":13.6,"v":-8.57},{"t":2.64e-8,"e":13.6,"v":-8.67},{"t":3.17e-8,"e":13.6,"v":-8.79},{"t":3.81e-8,"e":13.6,"v":-8.94},{"t":4.58e-8,"e":13.6,"v":-9.02},{"t":5.51e-8,"e":13.6,"v":-9.07},{"t":6.62e-8,"e":13.6,"v":-9.13},{"t":7.96e-8,"e":13.6,"v":-9.19},{"t":9.57e-8,"e":13.6,"v":-9.24},{"t":1.15e-7,"e":13.6,"v":-9.29},{"t":1.38e-7,"e":13.6,"v":-9.27},{"t":1.66e-7,"e":13.6,"v":-9.19},{"t":2.0e-7,"e":13.6,"v":-9.1},{"t":2.4e-7,"e":13.6,"v":-8.95},{"t":2.89e-7,"e":13.6,"v":-8.7},{"t":3.48e-7,"e":13.6,"v":-8.54},{"t":4.18e-7,"e":13.6,"v":-8.3},{"t":5.03e-7,"e":13.6,"v":-8.1},{"t":6.04e-7,"e":13.6,"v":-7.95},{"t":7.27e-7,"e":13.6,"v":-7.82},{"t":8.74e-7,"e":13.6,"v":-7.67},{"t":1.05e-6,"e":13.6,"v":-7.52},{"t":1.26e-6,"e":13.6,"v":-7.34},{"t":1.52e-6,"e":13.6,"v":-7.17},{"t":1.82e-6,"e":13.6,"v":-7.04},
{"t":2.19e-8,"e":15.7,"v":-8.51},{"t":2.64e-8,"e":15.7,"v":-8.61},{"t":3.17e-8,"e":15.7,"v":-8.71},{"t":3.81e-8,"e":15.7,"v":-8.84},{"t":4.58e-8,"e":15.7,"v":-8.98},{"t":5.51e-8,"e":15.7,"v":-9.04},{"t":6.62e-8,"e":15.7,"v":-9.09},{"t":7.96e-8,"e":15.7,"v":-9.15},{"t":9.57e-8,"e":15.7,"v":-9.19},{"t":1.15e-7,"e":15.7,"v":-9.23},{"t":1.38e-7,"e":15.7,"v":-9.22},{"t":1.66e-7,"e":15.7,"v":-9.19},{"t":2.0e-7,"e":15.7,"v":-9.1},{"t":2.4e-7,"e":15.7,"v":-8.95},{"t":2.89e-7,"e":15.7,"v":-8.7},{"t":3.48e-7,"e":15.7,"v":-8.54},{"t":4.18e-7,"e":15.7,"v":-8.3},{"t":5.03e-7,"e":15.7,"v":-8.1},{"t":6.04e-7,"e":15.7,"v":-7.95},{"t":7.27e-7,"e":15.7,"v":-7.82},{"t":8.74e-7,"e":15.7,"v":-7.67},{"t":1.05e-6,"e":15.7,"v":-7.52},{"t":1.26e-6,"e":15.7,"v":-7.34},{"t":1.52e-6,"e":15.7,"v":-7.17},{"t":1.82e-6,"e":15.7,"v":-7.04},
{"t":2.19e-8,"e":18.1,"v":-8.43},{"t":2.64e-8,"e":18.1,"v":-8.54},{"t":3.17e-8,"e":18.1,"v":-8.64},{"t":3.81e-8,"e":18.1,"v":-8.75},{"t":4.58e-8,"e":18.1,"v":-8.89},{"t":5.51e-8,"e":18.1,"v":-9.01},{"t":6.62e-8,"e":18.1,"v":-9.06},{"t":7.96e-8,"e":18.1,"v":-9.11},{"t":9.57e-8,"e":18.1,"v":-9.17},{"t":1.15e-7,"e":18.1,"v":-9.18},{"t":1.38e-7,"e":18.1,"v":-9.21},{"t":1.66e-7,"e":18.1,"v":-9.15},{"t":2.0e-7,"e":18.1,"v":-9.1},{"t":2.4e-7,"e":18.1,"v":-8.95},{"t":2.89e-7,"e":18.1,"v":-8.7},{"t":3.48e-7,"e":18.1,"v":-8.54},{"t":4.18e-7,"e":18.1,"v":-8.3},{"t":5.03e-7,"e":18.1,"v":-8.1},{"t":6.04e-7,"e":18.1,"v":-7.95},{"t":7.27e-7,"e":18.1,"v":-7.82},{"t":8.74e-7,"e":18.1,"v":-7.67},{"t":1.05e-6,"e":18.1,"v":-7.52},{"t":1.26e-6,"e":18.1,"v":-7.34},{"t":1.52e-6,"e":18.1,"v":-7.17},{"t":1.82e-6,"e":18.1,"v":-7.04},
{"t":2.19e-8,"e":20.9,"v":-8.34},{"t":2.64e-8,"e":20.9,"v":-8.47},{"t":3.17e-8,"e":20.9,"v":-8.57},{"t":3.81e-8,"e":20.9,"v":-8.68},{"t":4.58e-8,"e":20.9,"v":-8.79},{"t":5.51e-8,"e":20.9,"v":-8.94},{"t":6.62e-8,"e":20.9,"v":-9.02},{"t":7.96e-8,"e":20.9,"v":-9.07},{"t":9.57e-8,"e":20.9,"v":-9.13},{"t":1.15e-7,"e":20.9,"v":-9.16},{"t":1.38e-7,"e":20.9,"v":-9.15},{"t":1.66e-7,"e":20.9,"v":-9.15},{"t":2.0e-7,"e":20.9,"v":-9.07},{"t":2.4e-7,"e":20.9,"v":-8.95},{"t":2.89e-7,"e":20.9,"v":-8.7},{"t":3.48e-7,"e":20.9,"v":-8.54},{"t":4.18e-7,"e":20.9,"v":-8.3},{"t":5.03e-7,"e":20.9,"v":-8.1},{"t":6.04e-7,"e":20.9,"v":-7.95},{"t":7.27e-7,"e":20.9,"v":-7.82},{"t":8.74e-7,"e":20.9,"v":-7.67},{"t":1.05e-6,"e":20.9,"v":-7.52},{"t":1.26e-6,"e":20.9,"v":-7.34},{"t":1.52e-6,"e":20.9,"v":-7.17},{"t":1.82e-6,"e":20.9,"v":-7.04},
{"t":2.19e-8,"e":24.2,"v":-8.25},{"t":2.64e-8,"e":24.2,"v":-8.39},{"t":3.17e-8,"e":24.2,"v":-8.51},{"t":3.81e-8,"e":24.2,"v":-8.61},{"t":4.58e-8,"e":24.2,"v":-8.71},{"t":5.51e-8,"e":24.2,"v":-8.84},{"t":6.62e-8,"e":24.2,"v":-8.98},{"t":7.96e-8,"e":24.2,"v":-9.04},{"t":9.57e-8,"e":24.2,"v":-9.09},{"t":1.15e-7,"e":24.2,"v":-9.12},{"t":1.38e-7,"e":24.2,"v":-9.15},{"t":1.66e-7,"e":24.2,"v":-9.1},{"t":2.0e-7,"e":24.2,"v":-9.07},{"t":2.4e-7,"e":24.2,"v":-8.95},{"t":2.89e-7,"e":24.2,"v":-8.7},{"t":3.48e-7,"e":24.2,"v":-8.54},{"t":4.18e-7,"e":24.2,"v":-8.3},{"t":5.03e-7,"e":24.2,"v":-8.1},{"t":6.04e-7,"e":24.2,"v":-7.95},{"t":7.27e-7,"e":24.2,"v":-7.82},{"t":8.74e-7,"e":24.2,"v":-7.67},{"t":1.05e-6,"e":24.2,"v":-7.52},{"t":1.26e-6,"e":24.2,"v":-7.34},{"t":1.52e-6,"e":24.2,"v":-7.17},{"t":1.82e-6,"e":24.2,"v":-7.04},
{"t":2.19e-8,"e":27.9,"v":-8.17},{"t":2.64e-8,"e":27.9,"v":-8.3},{"t":3.17e-8,"e":27.9,"v":-8.43},{"t":3.81e-8,"e":27.9,"v":-8.54},{"t":4.58e-8,"e":27.9,"v":-8.64},{"t":5.51e-8,"e":27.9,"v":-8.75},{"t":6.62e-8,"e":27.9,"v":-8.89},{"t":7.96e-8,"e":27.9,"v":-9.01},{"t":9.57e-8,"e":27.9,"v":-9.06},{"t":1.15e-7,"e":27.9,"v":-9.08},{"t":1.38e-7,"e":27.9,"v":-9.1},{"t":1.66e-7,"e":27.9,"v":-9.1},{"t":2.0e-7,"e":27.9,"v":-9.03},{"t":2.4e-7,"e":27.9,"v":-8.95},{"t":2.89e-7,"e":27.9,"v":-8.7},{"t":3.48e-7,"e":27.9,"v":-8.54},{"t":4.18e-7,"e":27.9,"v":-8.3},{"t":5.03e-7,"e":27.9,"v":-8.1},{"t":6.04e-7,"e":27.9,"v":-7.95},{"t":7.27e-7,"e":27.9,"v":-7.82},{"t":8.74e-7,"e":27.9,"v":-7.67},{"t":1.05e-6,"e":27.9,"v":-7.52},{"t":1.26e-6,"e":27.9,"v":-7.34},{"t":1.52e-6,"e":27.9,"v":-7.17},{"t":1.82e-6,"e":27.9,"v":-7.04}
]
},
"spacing": 46,
"resolve": {"scale": {"color": "independent"}, "legend": {"color": "independent"}},
"hconcat": [
{
"width": 315, "height": 316,
"title": {"text": "a", "anchor": "end", "frame": "group", "fontSize": 30, "offset": -28, "dx": -8, "baseline": "alphabetic"},
"resolve": {"axis": {"x": "independent", "y": "independent"}},
"layer": [
{"data": {"values": [{"t1": 0.1, "t2": 5.6}]},
 "mark": {"type": "rect", "color": "#fbdde1"},
 "encoding": {
  "x": {"field": "t1", "type": "quantitative", "scale": {"type": "log", "domain": [0.1, 1000000000], "nice": false},
   "axis": {"orient": "bottom", "values": [0.1,1,10,100,1000,10000,100000,1000000,10000000,100000000,1000000000], "tickSize": 10, "labels": false, "title": "Reponse time (ns)", "titleFontSize": 24, "titleBaseline": "alphabetic", "titleY": 78}},
  "x2": {"field": "t2"}}},
{"data": {"name": "pts"},
 "mark": {"type": "circle", "size": 95, "color": "#e8202a", "opacity": 1},
 "encoding": {
  "x": {"field": "time", "type": "quantitative", "scale": {"type": "log", "domain": [0.1, 1000000000], "nice": false},
   "axis": {"orient": "bottom", "values": [0.1,100,100000,100000000], "ticks": false, "labelExpr": "'10'", "labelFontSize": 25, "labelAlign": "right", "labelOffset": 5, "labelBaseline": "alphabetic", "labelPadding": 53, "title": null}},
  "y": {"field": "eqe", "type": "quantitative", "scale": {"type": "log", "domain": [1, 100], "nice": false},
   "axis": {"orient": "left", "values": [2,3,4,5,6,7,8,9,20,30,40,50,60,70,80,90], "tickSize": 5, "labelExpr": "indexof([2,4,6], datum.value) >= 0 ? '' + datum.value : indexof([20,40,60], datum.value) >= 0 ? '' + datum.value / 10 : ''", "labelFontSize": 17, "labelPadding": 4, "title": "Ext. quantum efficiency", "titleFontSize": 24, "titleBaseline": "alphabetic", "titleX": -62, "titleY": 158}}}},
{"data": {"name": "pts"},
 "transform": [{"filter": "datum.label != 'this work' && datum.label != 'HgTe QDs' && datum.label != 'PbSe QDs' && datum.time < 100000000"}],
 "mark": {"type": "text", "align": "left", "dx": 11, "dy": 17, "font": "DejaVu Sans Condensed, sans-serif", "fontSize": 15, "color": "#222"},
 "encoding": {
  "x": {"field": "time", "type": "quantitative", "scale": {"type": "log", "domain": [0.1, 1000000000], "nice": false},
   "axis": {"orient": "bottom", "values": [0.1,100,100000,100000000], "ticks": false, "labelExpr": "datum.value < 1 ? '-1' : datum.value < 1000 ? '2' : datum.value < 1000000 ? '5' : '8'", "labelFontSize": 16, "labelAlign": "left", "labelOffset": 11, "labelBaseline": "alphabetic", "labelPadding": 33, "title": null}},
  "y": {"field": "eqe", "type": "quantitative", "scale": {"type": "log", "domain": [1, 100], "nice": false},
   "axis": {"orient": "left", "values": [1, 10, 100], "tickSize": 10, "labelExpr": "datum.value < 5 ? '1' : datum.value < 50 ? '10' : '100'", "labelFontSize": 25, "labelPadding": 10, "title": null}},
  "text": {"field": "label"}}},
{"data": {"name": "pts"},
 "transform": [{"filter": "datum.label == 'HgTe QDs' || datum.label == 'PbSe QDs'"}],
 "mark": {"type": "text", "align": "left", "dx": 8, "dy": -17, "font": "DejaVu Sans Condensed, sans-serif", "fontSize": 15, "color": "#222"},
 "encoding": {
  "x": {"field": "time", "type": "quantitative", "scale": {"type": "log", "domain": [0.1, 1000000000], "nice": false}, "axis": null},
  "y": {"field": "eqe", "type": "quantitative", "scale": {"type": "log", "domain": [1, 100], "nice": false}, "axis": null},
  "text": {"field": "label"}}},
{"data": {"name": "pts"},
 "transform": [{"filter": "datum.label == 'this work'"}],
 "mark": {"type": "text", "align": "center", "dx": 5, "dy": 22, "font": "DejaVu Sans Condensed, sans-serif", "fontSize": 15, "color": "#222"},
 "encoding": {
  "x": {"field": "time", "type": "quantitative", "scale": {"type": "log", "domain": [0.1, 1000000000], "nice": false}, "axis": null},
  "y": {"field": "eqe", "type": "quantitative", "scale": {"type": "log", "domain": [1, 100], "nice": false}, "axis": null},
  "text": {"field": "label"}}},
{"data": {"name": "pts"},
 "transform": [{"filter": "datum.time > 100000000"}],
 "mark": {"type": "text", "align": "right", "dx": 2, "dy": 24, "font": "DejaVu Sans Condensed, sans-serif", "fontSize": 15, "color": "#222"},
 "encoding": {
  "x": {"field": "time", "type": "quantitative", "scale": {"type": "log", "domain": [0.1, 1000000000], "nice": false}, "axis": null},
  "y": {"field": "eqe", "type": "quantitative", "scale": {"type": "log", "domain": [1, 100], "nice": false}, "axis": null},
  "text": {"field": "label"}}}
]
},
{
"spacing": 43,
"resolve": {"scale": {"color": "independent"}, "legend": {"color": "independent"}},
"hconcat": [
{
"width": 316, "height": 316,
"title": {"text": "b", "anchor": "end", "frame": "group", "fontSize": 30, "offset": -28, "dx": -8, "baseline": "alphabetic"},
"resolve": {"axis": {"x": "independent", "y": "independent"}},
"layer": [
{"data": {"name": "hb"},
 "mark": {"type": "point", "shape": "M-0.68,-1H0.68V1H-0.68Z", "size": 369, "filled": true, "opacity": 1, "strokeWidth": 0, "clip": true},
 "encoding": {
  "x": {"field": "t", "type": "quantitative", "scale": {"type": "log", "domain": [2e-8, 2e-6], "nice": false},
   "axis": {"orient": "bottom", "values": [2e-8,3e-8,4e-8,5e-8,6e-8,7e-8,8e-8,9e-8,2e-7,3e-7,4e-7,5e-7,6e-7,7e-7,8e-7,9e-7,2e-6], "tickSize": 7, "labelExpr": "indexof([2,4,6], round(datum.value / pow(10, floor(log(datum.value) / LN10 + 0.000001)))) >= 0 ? '' + round(datum.value / pow(10, floor(log(datum.value) / LN10 + 0.000001))) : ''", "labelFontSize": 17, "labelBaseline": "alphabetic", "labelPadding": 22, "title": "Thickness (m)", "titleFontSize": 24, "titleBaseline": "alphabetic", "titleY": 78, "titleX": 147}},
  "y": {"field": "m", "type": "quantitative", "scale": {"type": "log", "domain": [0.001, 1], "nice": false},
   "axis": {"orient": "left", "values": [0.002,0.003,0.004,0.005,0.006,0.007,0.008,0.009,0.02,0.03,0.04,0.05,0.06,0.07,0.08,0.09,0.2,0.3,0.4,0.5,0.6,0.7,0.8,0.9], "tickSize": 5, "labels": false, "title": "Mobility (cm²/V·s)", "titleFontSize": 24, "titleBaseline": "alphabetic", "titleX": -75, "titleY": 158}},
  "color": {"field": "v", "type": "quantitative",
   "scale": {"type": "linear", "domain": [-9.7,-9.5,-9.3,-9.1,-8.95,-8.8,-8.65,-8.5,-8.25,-8.0,-7.8,-7.6,-7.4,-7.2,-7.0,-6.9], "range": ["#ffffff","#fde8e8","#f6bcbd","#ef7d80","#e8484c","#f07840","#f8ab3e","#efe56c","#c0dc8c","#84c8ba","#47c0ec","#3f8bca","#3a5fa8","#2f3b88","#2a296e","#29286c"], "clamp": true, "interpolate": "rgb"},
   "legend": {"orient": "none", "legendX": 224, "legendY": 186, "padding": 0, "direction": "vertical", "gradientLength": 113, "gradientThickness": 24, "gradientStrokeColor": "#ffffff", "gradientStrokeWidth": 2, "values": [-9, -8, -7], "labelExpr": "datum.value == -9 ? '10⁻⁹' : datum.value == -8 ? '10⁻⁸' : '10⁻⁷'", "labelColor": "#ffffff", "labelFontWeight": "bold", "labelFontSize": 20, "labelOffset": 15, "title": null}}}},
{"data": {"values": [{"t": 2e-8, "m": 0.00142}, {"t": 1.7e-7, "m": 1}]},
 "mark": {"type": "line", "color": "#ffffff", "strokeDash": [10, 7], "strokeWidth": 1.6},
 "encoding": {
  "x": {"field": "t", "type": "quantitative", "scale": {"type": "log", "domain": [2e-8, 2e-6], "nice": false},
   "axis": {"orient": "bottom", "values": [1e-7, 1e-6], "tickSize": 11, "labelExpr": "'10'", "labelFontSize": 25, "labelAlign": "right", "labelOffset": 5, "labelBaseline": "alphabetic", "labelPadding": 42, "title": null}},
  "y": {"field": "m", "type": "quantitative", "scale": {"type": "log", "domain": [0.001, 1], "nice": false},
   "axis": {"orient": "left", "values": [0.001, 0.01, 0.1, 1], "tickSize": 9, "labelExpr": "'10'", "labelFontSize": 25, "labelAlign": "right", "labelPadding": 31, "labelOffset": 8, "title": null}}}},
{"data": {"values": [{"t": 2e-8, "m": 0.00142}, {"t": 1.7e-7, "m": 1}]},
 "mark": {"type": "line", "opacity": 0},
 "encoding": {
  "x": {"field": "t", "type": "quantitative", "scale": {"type": "log", "domain": [2e-8, 2e-6], "nice": false},
   "axis": {"orient": "bottom", "values": [1e-7, 1e-6], "ticks": false, "labelExpr": "datum.value < 5e-7 ? '-7' : '-6'", "labelFontSize": 16, "labelAlign": "left", "labelOffset": 11, "labelBaseline": "alphabetic", "labelPadding": 34, "title": null}},
  "y": {"field": "m", "type": "quantitative", "scale": {"type": "log", "domain": [0.001, 1], "nice": false},
   "axis": {"orient": "left", "values": [0.001, 0.01, 0.1, 1], "ticks": false, "labelExpr": "datum.value < 0.005 ? '-3' : datum.value < 0.05 ? '-2' : datum.value < 0.5 ? '-1' : '0'", "labelFontSize": 16, "labelAlign": "right", "labelPadding": 25, "labelOffset": -8, "title": null}}}}
]
},
{
"width": 315, "height": 316,
"title": {"text": "c", "anchor": "end", "frame": "group", "fontSize": 30, "offset": -28, "dx": -17, "baseline": "alphabetic"},
"resolve": {"axis": {"x": "independent", "y": "independent"}},
"layer": [
{"data": {"name": "hc"},
 "mark": {"type": "point", "shape": "M-0.65,-1H0.65V1H-0.65Z", "size": 412, "filled": true, "opacity": 1, "strokeWidth": 0, "clip": true},
 "encoding": {
  "x": {"field": "t", "type": "quantitative", "scale": {"type": "log", "domain": [2e-8, 2e-6], "nice": false},
   "axis": {"orient": "bottom", "values": [2e-8,3e-8,4e-8,5e-8,6e-8,7e-8,8e-8,9e-8,2e-7,3e-7,4e-7,5e-7,6e-7,7e-7,8e-7,9e-7,2e-6], "tickSize": 7, "labelExpr": "indexof([2,4,6], round(datum.value / pow(10, floor(log(datum.value) / LN10 + 0.000001)))) >= 0 ? '' + round(datum.value / pow(10, floor(log(datum.value) / LN10 + 0.000001))) : ''", "labelFontSize": 17, "labelBaseline": "alphabetic", "labelPadding": 22, "title": "Thickness (m)", "titleFontSize": 24, "titleBaseline": "alphabetic", "titleY": 78}},
  "y": {"field": "e", "type": "quantitative", "scale": {"type": "log", "domain": [3, 30], "nice": false},
   "axis": {"orient": "left", "values": [3,4,5,6,7,8,9,20,30], "tickSize": 7, "labelExpr": "datum.value == 7 || datum.value == 8 || datum.value == 9 ? '' : datum.value >= 20 ? '' + datum.value / 10 : '' + datum.value", "labelFontSize": 17, "labelPadding": 2, "title": "Dielectric constant", "titleFontSize": 24, "titleBaseline": "alphabetic", "titleX": -62, "titleY": 158}},
  "color": {"field": "v", "type": "quantitative",
   "scale": {"type": "linear", "domain": [-9.7,-9.5,-9.3,-9.1,-8.95,-8.8,-8.65,-8.5,-8.25,-8.0,-7.8,-7.6,-7.4,-7.2,-7.0,-6.9], "range": ["#ffffff","#fde8e8","#f6bcbd","#ef7d80","#e8484c","#f07840","#f8ab3e","#efe56c","#c0dc8c","#84c8ba","#47c0ec","#3f8bca","#3a5fa8","#2f3b88","#2a296e","#29286c"], "clamp": true, "interpolate": "rgb"},
   "legend": {"orient": "none", "legendX": 224, "legendY": 186, "padding": 0, "direction": "vertical", "gradientLength": 113, "gradientThickness": 24, "gradientStrokeColor": "#ffffff", "gradientStrokeWidth": 2, "values": [-9, -8, -7], "labelExpr": "datum.value == -9 ? '10⁻⁹' : datum.value == -8 ? '10⁻⁸' : '10⁻⁷'", "labelColor": "#ffffff", "labelFontWeight": "bold", "labelFontSize": 20, "labelOffset": 15, "title": null}}}},
{"data": {"values": [{"t": 8.3e-8, "e": 4.4}, {"t": 1.6e-7, "e": 30}]},
 "mark": {"type": "line", "color": "#ffffff", "strokeDash": [10, 7], "strokeWidth": 1.6},
 "encoding": {
  "x": {"field": "t", "type": "quantitative", "scale": {"type": "log", "domain": [2e-8, 2e-6], "nice": false},
   "axis": {"orient": "bottom", "values": [1e-7, 1e-6], "tickSize": 11, "labelExpr": "'10'", "labelFontSize": 25, "labelAlign": "right", "labelOffset": 5, "labelBaseline": "alphabetic", "labelPadding": 42, "title": null}},
  "y": {"field": "e", "type": "quantitative", "scale": {"type": "log", "domain": [3, 30], "nice": false},
   "axis": {"orient": "left", "values": [10], "tickSize": 11, "labelExpr": "'10'", "labelFontSize": 25, "labelPadding": 10, "title": null}}}},
{"data": {"values": [{"t": 8.3e-8, "e": 4.4}, {"t": 1.6e-7, "e": 30}]},
 "mark": {"type": "line", "opacity": 0},
 "encoding": {
  "x": {"field": "t", "type": "quantitative", "scale": {"type": "log", "domain": [2e-8, 2e-6], "nice": false},
   "axis": {"orient": "bottom", "values": [1e-7, 1e-6], "ticks": false, "labelExpr": "datum.value < 5e-7 ? '-7' : '-6'", "labelFontSize": 16, "labelAlign": "left", "labelOffset": 11, "labelBaseline": "alphabetic", "labelPadding": 34, "title": null}},
  "y": {"field": "e", "type": "quantitative", "scale": {"type": "log", "domain": [3, 30], "nice": false}, "axis": null}}}
]
}
]
}
],
"config": {
 "view": {"stroke": "#000000", "strokeWidth": 1.3},
 "font": "Lato",
 "axis": {"grid": false, "domain": false, "tickColor": "#000000", "tickWidth": 1.2, "labelColor": "#000000", "titleColor": "#000000", "labelFont": "Lato", "titleFont": "Lato", "titleFontWeight": "normal", "labelFlush": false, "labelOverlap": false, "labelBound": false},
 "title": {"font": "Lato", "fontWeight": "normal", "color": "#000000"},
 "legend": {"labelFont": "Lato"}
}
}
